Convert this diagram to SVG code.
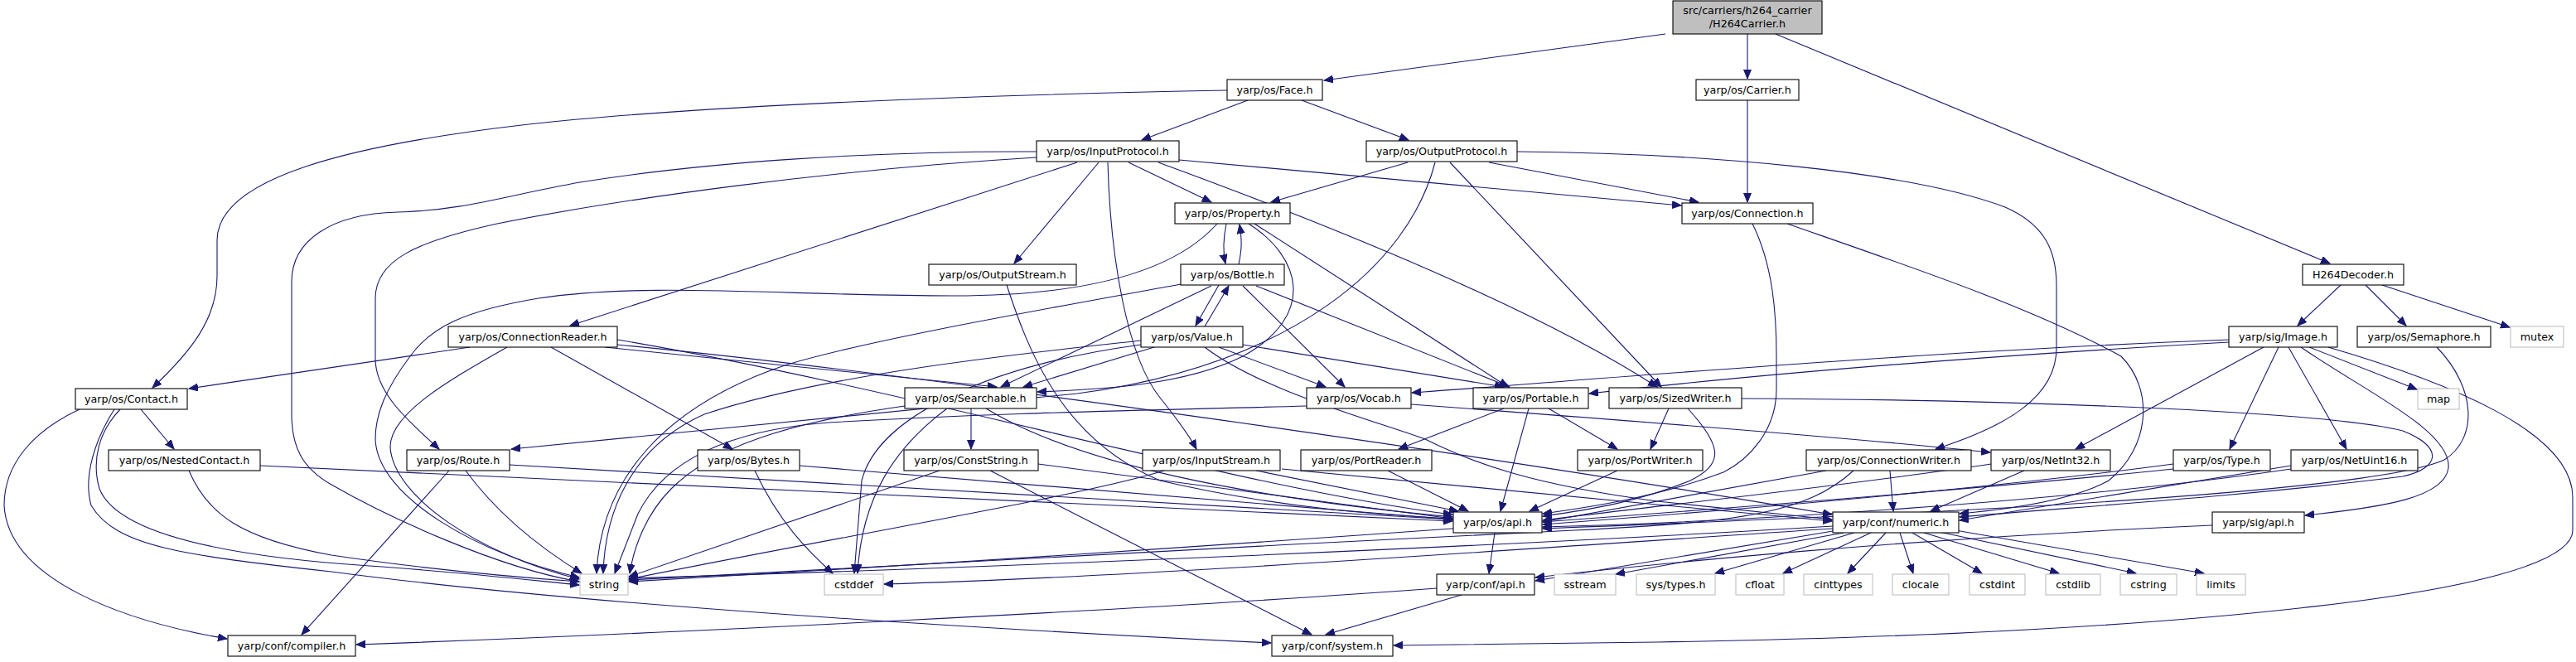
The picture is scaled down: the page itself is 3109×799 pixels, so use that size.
<svg xmlns="http://www.w3.org/2000/svg" width="3109" height="799" viewBox="0 0 3109 799">
<style>
.node rect{fill:#fff;stroke:#000;stroke-width:1.1}
.node.ext rect{stroke:#bfbfbf}
.node.top rect{fill:#bfbfbf}
.node text{font-family:"DejaVu Sans","Liberation Sans",sans-serif;font-size:12.7px;text-anchor:middle;fill:#000}
#edges path{fill:none;stroke:#191970;stroke-width:1.1;marker-end:url(#a)}
</style>
<defs>
<marker id="a" markerUnits="userSpaceOnUse" markerWidth="13" markerHeight="11" refX="11" refY="4.5" orient="auto"><path d="M0,0 L11,4.5 L0,9 z" fill="#191970" stroke="#191970" stroke-width="1"/></marker>
</defs>
<rect width="3109" height="799" fill="#fff"/>
<g id="edges">
<path d="M2010,41 L1598,97"/>
<path d="M2109,41 L2109,95"/>
<path d="M2143,41 L2812,318"/>
<path d="M1481,109 C1100,116 800,132 638,150 C420,175 262,215 262,290 L262,333 C262,385 230,425 184,468"/>
<path d="M1506,121 L1378,169"/>
<path d="M1571,121 L1700,169"/>
<path d="M2109,121 L2109,244"/>
<path d="M1251,183 C1050,182 850,196 700,220 C610,236 560,254 480,256 C400,258 352,290 352,340 L352,500 C352,540 365,565 400,585 C470,625 600,685 699,702"/>
<path d="M1251,190 C1000,205 750,240 600,270 C500,292 453,315 453,360 L453,433 C453,475 495,510 530,542"/>
<path d="M1300,196 L688,393"/>
<path d="M1326,196 L1224,318"/>
<path d="M1337,196 C1340,310 1360,430 1400,480 C1420,505 1435,525 1444,542"/>
<path d="M1362,196 L1462,244"/>
<path d="M1398,196 C1600,270 1850,370 2000,467"/>
<path d="M1423,193 L2029,248"/>
<path d="M1699,196 L1534,244"/>
<path d="M1732,196 C1700,320 1560,440 1300,475 L617,542"/>
<path d="M1797,196 L2050,244"/>
<path d="M1831,183 C2050,185 2300,205 2420,250 C2470,272 2482,305 2482,345 L2482,420 C2482,480 2420,515 2336,542"/>
<path d="M1750,196 L2005,467"/>
<path d="M1480,270 C1476,290 1476,305 1479,318"/>
<path d="M1495,319 C1499,300 1499,290 1496,271"/>
<path d="M1469,270 C1420,325 1320,357 1150,357 C950,357 780,340 650,360 C560,375 520,395 495,430 C465,470 453,500 453,530 C455,600 580,670 699,697"/>
<path d="M1514,270 L1820,467"/>
<path d="M1507,270 C1570,310 1590,380 1500,430 C1430,465 1330,470 1252,473"/>
<path d="M1471,344 L1443,393"/>
<path d="M1454,394 L1483,345"/>
<path d="M1425,343 C1250,375 1050,410 950,440 C800,490 725,580 720,692"/>
<path d="M1462,345 L1208,467"/>
<path d="M1500,345 L1623,467"/>
<path d="M1516,345 L1822,467"/>
<path d="M1377,411 C1250,425 1000,450 850,500 C760,540 730,620 728,692"/>
<path d="M1377,416 C1200,440 1060,500 1040,580 L1031,692"/>
<path d="M1393,419 L1235,467"/>
<path d="M1471,419 L1600,467"/>
<path d="M1500,416 L1815,467"/>
<path d="M1454,419 C1520,470 1650,505 1720,530 C1780,560 1850,585 2000,605 L2211,627"/>
<path d="M1577,490 C1400,495 1200,498 1000,510 C870,520 800,560 770,620 L742,692"/>
<path d="M1703,488 C2000,510 2250,530 2402,546"/>
<path d="M1172,493 L1172,542"/>
<path d="M1092,490 C950,510 860,540 810,590 C780,620 765,660 760,692"/>
<path d="M1143,493 C1080,540 1040,600 1035,692"/>
<path d="M1190,493 C1300,560 1500,600 1753,624"/>
<path d="M567,419 L228,469"/>
<path d="M612,419 C540,460 470,500 471,540 C475,600 580,670 699,699"/>
<path d="M665,419 L884,542"/>
<path d="M730,419 L1203,467"/>
<path d="M745,416 C1100,450 1800,550 2211,621"/>
<path d="M745,410 C1100,470 1500,590 1753,621"/>
<path d="M1215,344 C1240,420 1280,530 1400,580 C1550,615 1680,622 1753,626"/>
<path d="M170,494 L210,542"/>
<path d="M96,494 C40,520 5,560 5,610 C10,700 150,750 274,771"/>
<path d="M145,494 C120,520 110,555 120,590 C140,640 250,670 446,683 C550,690 620,698 699,706"/>
<path d="M138,494 C115,530 100,575 110,610 C140,660 220,670 400,690 C700,730 1200,760 1534,776"/>
<path d="M314,562 L1753,629"/>
<path d="M228,568 C250,620 290,650 400,670 C500,685 600,695 699,702"/>
<path d="M615,561 L1753,627"/>
<path d="M542,568 L364,766"/>
<path d="M562,568 C600,620 650,660 702,692"/>
<path d="M911,568 C940,630 975,665 1005,692"/>
<path d="M965,562 L1753,627"/>
<path d="M1134,568 L759,696"/>
<path d="M1253,560 L1753,626"/>
<path d="M1195,568 L1583,766"/>
<path d="M1405,568 C1300,600 1000,650 759,699"/>
<path d="M1516,568 L1760,617"/>
<path d="M1547,566 L2211,629"/>
<path d="M1675,568 L1772,617"/>
<path d="M1815,493 L1688,542"/>
<path d="M1869,493 L1952,542"/>
<path d="M1845,493 L1811,617"/>
<path d="M2014,493 L1992,542"/>
<path d="M2037,493 C2080,540 2080,560 2040,580 C1980,605 1920,615 1862,623"/>
<path d="M2102,481 C2400,482 2800,495 2900,520 C2950,540 2945,565 2900,575 C2700,600 2500,612 2365,624"/>
<path d="M1952,568 L1846,617"/>
<path d="M2281,568 L2285,617"/>
<path d="M2204,568 L1862,630"/>
<path d="M2237,568 C2180,620 2100,630 1900,640 C1500,660 1000,685 759,700"/>
<path d="M2443,568 L2330,617"/>
<path d="M2403,560 C2200,590 2000,610 1862,628"/>
<path d="M2623,560 C2400,590 2100,615 1862,633"/>
<path d="M2623,566 C2300,600 1500,660 759,702"/>
<path d="M2765,562 C2600,590 2450,615 2365,628"/>
<path d="M2765,566 C2500,605 2100,630 1862,636"/>
<path d="M2115,270 C2140,320 2144,380 2144,430 L2144,470 C2144,520 2110,555 2080,570 C2000,600 1920,612 1862,620"/>
<path d="M2157,270 C2300,320 2450,370 2560,430 C2600,470 2595,540 2545,580 C2500,605 2420,615 2365,620"/>
<path d="M2690,410 C2300,425 1900,460 1704,474"/>
<path d="M2690,413 C2300,435 2050,460 1918,475"/>
<path d="M2732,419 L2505,542"/>
<path d="M2750,419 L2691,542"/>
<path d="M2762,419 L2832,542"/>
<path d="M2787,419 L2917,470"/>
<path d="M2777,419 C2850,470 2960,520 2955,565 C2950,600 2880,612 2782,622"/>
<path d="M2810,419 C2950,460 3105,520 3105,600 L3105,640 C3105,720 2600,765 2000,775 L1682,779"/>
<path d="M2941,419 C2990,470 2990,530 2950,555 C2850,600 2200,625 1862,638"/>
<path d="M2825,344 L2773,393"/>
<path d="M2855,344 L2904,393"/>
<path d="M2875,344 L3029,395"/>
<path d="M2670,634 C2300,650 2000,680 1853,697"/>
<path d="M1804,643 L1797,692"/>
<path d="M1734,710 C1400,735 800,765 430,778"/>
<path d="M1764,718 L1600,766"/>
<path d="M2212,635 C1800,660 1200,685 759,698"/>
<path d="M2212,638 C1800,665 1400,695 1067,705"/>
<path d="M2212,641 L1853,701"/>
<path d="M2225,643 L1950,693"/>
<path d="M2238,643 L2070,692"/>
<path d="M2258,643 L2152,692"/>
<path d="M2276,643 L2230,692"/>
<path d="M2293,643 L2309,692"/>
<path d="M2308,643 L2392,692"/>
<path d="M2322,643 L2485,692"/>
<path d="M2340,642 L2578,692"/>
<path d="M2360,640 L2660,692"/>
</g>
<g id="n_top" class="node top"><rect x="2019" y="1" width="180" height="40"/><text x="2109" y="17">src/carriers/h264_carrier</text><text x="2109" y="33">/H264Carrier.h</text></g>
<g id="n_face" class="node"><rect x="1481" y="96" width="115" height="25"/><text x="1538.5" y="113">yarp/os/Face.h</text></g>
<g id="n_carrier" class="node"><rect x="2047" y="96" width="124" height="25"/><text x="2109" y="113">yarp/os/Carrier.h</text></g>
<g id="n_inputprotocol" class="node"><rect x="1251" y="170" width="172" height="25"/><text x="1337" y="187">yarp/os/InputProtocol.h</text></g>
<g id="n_outputprotocol" class="node"><rect x="1649" y="170" width="182" height="25"/><text x="1740" y="187">yarp/os/OutputProtocol.h</text></g>
<g id="n_property" class="node"><rect x="1418" y="245" width="139" height="25"/><text x="1487.5" y="262">yarp/os/Property.h</text></g>
<g id="n_connection" class="node"><rect x="2030" y="245" width="158" height="25"/><text x="2109" y="262">yarp/os/Connection.h</text></g>
<g id="n_h264decoder" class="node"><rect x="2779" y="319" width="122" height="25"/><text x="2840" y="336">H264Decoder.h</text></g>
<g id="n_outputstream" class="node"><rect x="1121" y="319" width="178" height="25"/><text x="1210" y="336">yarp/os/OutputStream.h</text></g>
<g id="n_bottle" class="node"><rect x="1425" y="319" width="125" height="25"/><text x="1487.5" y="336">yarp/os/Bottle.h</text></g>
<g id="n_connectionreader" class="node"><rect x="541" y="394" width="204" height="25"/><text x="643" y="411">yarp/os/ConnectionReader.h</text></g>
<g id="n_value" class="node"><rect x="1377" y="394" width="123" height="25"/><text x="1438.5" y="411">yarp/os/Value.h</text></g>
<g id="n_image" class="node"><rect x="2690" y="394" width="131" height="25"/><text x="2755.5" y="411">yarp/sig/Image.h</text></g>
<g id="n_semaphore" class="node"><rect x="2845" y="394" width="161" height="25"/><text x="2925.5" y="411">yarp/os/Semaphore.h</text></g>
<g id="n_mutex" class="node ext"><rect x="3030" y="394" width="64" height="25"/><text x="3062" y="411">mutex</text></g>
<g id="n_contact" class="node"><rect x="91" y="469" width="135" height="25"/><text x="158.5" y="486">yarp/os/Contact.h</text></g>
<g id="n_searchable" class="node"><rect x="1092" y="468" width="159" height="25"/><text x="1171.5" y="485">yarp/os/Searchable.h</text></g>
<g id="n_vocab" class="node"><rect x="1577" y="468" width="126" height="25"/><text x="1640" y="485">yarp/os/Vocab.h</text></g>
<g id="n_portable" class="node"><rect x="1778" y="468" width="139" height="25"/><text x="1847.5" y="485">yarp/os/Portable.h</text></g>
<g id="n_sizedwriter" class="node"><rect x="1942" y="468" width="160" height="25"/><text x="2022" y="485">yarp/os/SizedWriter.h</text></g>
<g id="n_map" class="node ext"><rect x="2918" y="469" width="50" height="25"/><text x="2943" y="486">map</text></g>
<g id="n_nestedcontact" class="node"><rect x="131" y="543" width="183" height="25"/><text x="222.5" y="560">yarp/os/NestedContact.h</text></g>
<g id="n_route" class="node"><rect x="491" y="543" width="124" height="25"/><text x="553" y="560">yarp/os/Route.h</text></g>
<g id="n_bytes" class="node"><rect x="842" y="543" width="123" height="25"/><text x="903.5" y="560">yarp/os/Bytes.h</text></g>
<g id="n_conststring" class="node"><rect x="1091" y="543" width="162" height="25"/><text x="1172" y="560">yarp/os/ConstString.h</text></g>
<g id="n_inputstream" class="node"><rect x="1379" y="543" width="166" height="25"/><text x="1462" y="560">yarp/os/InputStream.h</text></g>
<g id="n_portreader" class="node"><rect x="1570" y="543" width="158" height="25"/><text x="1649" y="560">yarp/os/PortReader.h</text></g>
<g id="n_portwriter" class="node"><rect x="1904" y="543" width="151" height="25"/><text x="1979.5" y="560">yarp/os/PortWriter.h</text></g>
<g id="n_connectionwriter" class="node"><rect x="2180" y="543" width="199" height="25"/><text x="2279.5" y="560">yarp/os/ConnectionWriter.h</text></g>
<g id="n_netint32" class="node"><rect x="2403" y="543" width="144" height="25"/><text x="2475" y="560">yarp/os/NetInt32.h</text></g>
<g id="n_type" class="node"><rect x="2623" y="543" width="117" height="25"/><text x="2681.5" y="560">yarp/os/Type.h</text></g>
<g id="n_netuint16" class="node"><rect x="2765" y="543" width="153" height="25"/><text x="2841.5" y="560">yarp/os/NetUint16.h</text></g>
<g id="n_osapi" class="node"><rect x="1754" y="618" width="107" height="25"/><text x="1807.5" y="635">yarp/os/api.h</text></g>
<g id="n_numeric" class="node"><rect x="2212" y="618" width="152" height="25"/><text x="2288" y="635">yarp/conf/numeric.h</text></g>
<g id="n_sigapi" class="node"><rect x="2670" y="618" width="111" height="25"/><text x="2725.5" y="635">yarp/sig/api.h</text></g>
<g id="n_string" class="node ext"><rect x="700" y="693" width="58" height="25"/><text x="729" y="710">string</text></g>
<g id="n_cstddef" class="node ext"><rect x="995" y="693" width="71" height="25"/><text x="1030.5" y="710">cstddef</text></g>
<g id="n_confapi" class="node"><rect x="1734" y="693" width="118" height="25"/><text x="1793" y="710">yarp/conf/api.h</text></g>
<g id="n_sstream" class="node ext"><rect x="1876" y="693" width="74" height="25"/><text x="1913" y="710">sstream</text></g>
<g id="n_systypes" class="node ext"><rect x="1975" y="693" width="95" height="25"/><text x="2022.5" y="710">sys/types.h</text></g>
<g id="n_cfloat" class="node ext"><rect x="2095" y="693" width="58" height="25"/><text x="2124" y="710">cfloat</text></g>
<g id="n_cinttypes" class="node ext"><rect x="2177" y="693" width="83" height="25"/><text x="2218.5" y="710">cinttypes</text></g>
<g id="n_clocale" class="node ext"><rect x="2284" y="693" width="68" height="25"/><text x="2318" y="710">clocale</text></g>
<g id="n_cstdint" class="node ext"><rect x="2377" y="693" width="67" height="25"/><text x="2410.5" y="710">cstdint</text></g>
<g id="n_cstdlib" class="node ext"><rect x="2469" y="693" width="66" height="25"/><text x="2502" y="710">cstdlib</text></g>
<g id="n_cstring" class="node ext"><rect x="2559" y="693" width="68" height="25"/><text x="2593" y="710">cstring</text></g>
<g id="n_limits" class="node ext"><rect x="2651" y="693" width="59" height="25"/><text x="2680.5" y="710">limits</text></g>
<g id="n_compiler" class="node"><rect x="275" y="767" width="154" height="25"/><text x="352" y="784">yarp/conf/compiler.h</text></g>
<g id="n_system" class="node"><rect x="1535" y="767" width="146" height="25"/><text x="1608" y="784">yarp/conf/system.h</text></g>
</svg>
